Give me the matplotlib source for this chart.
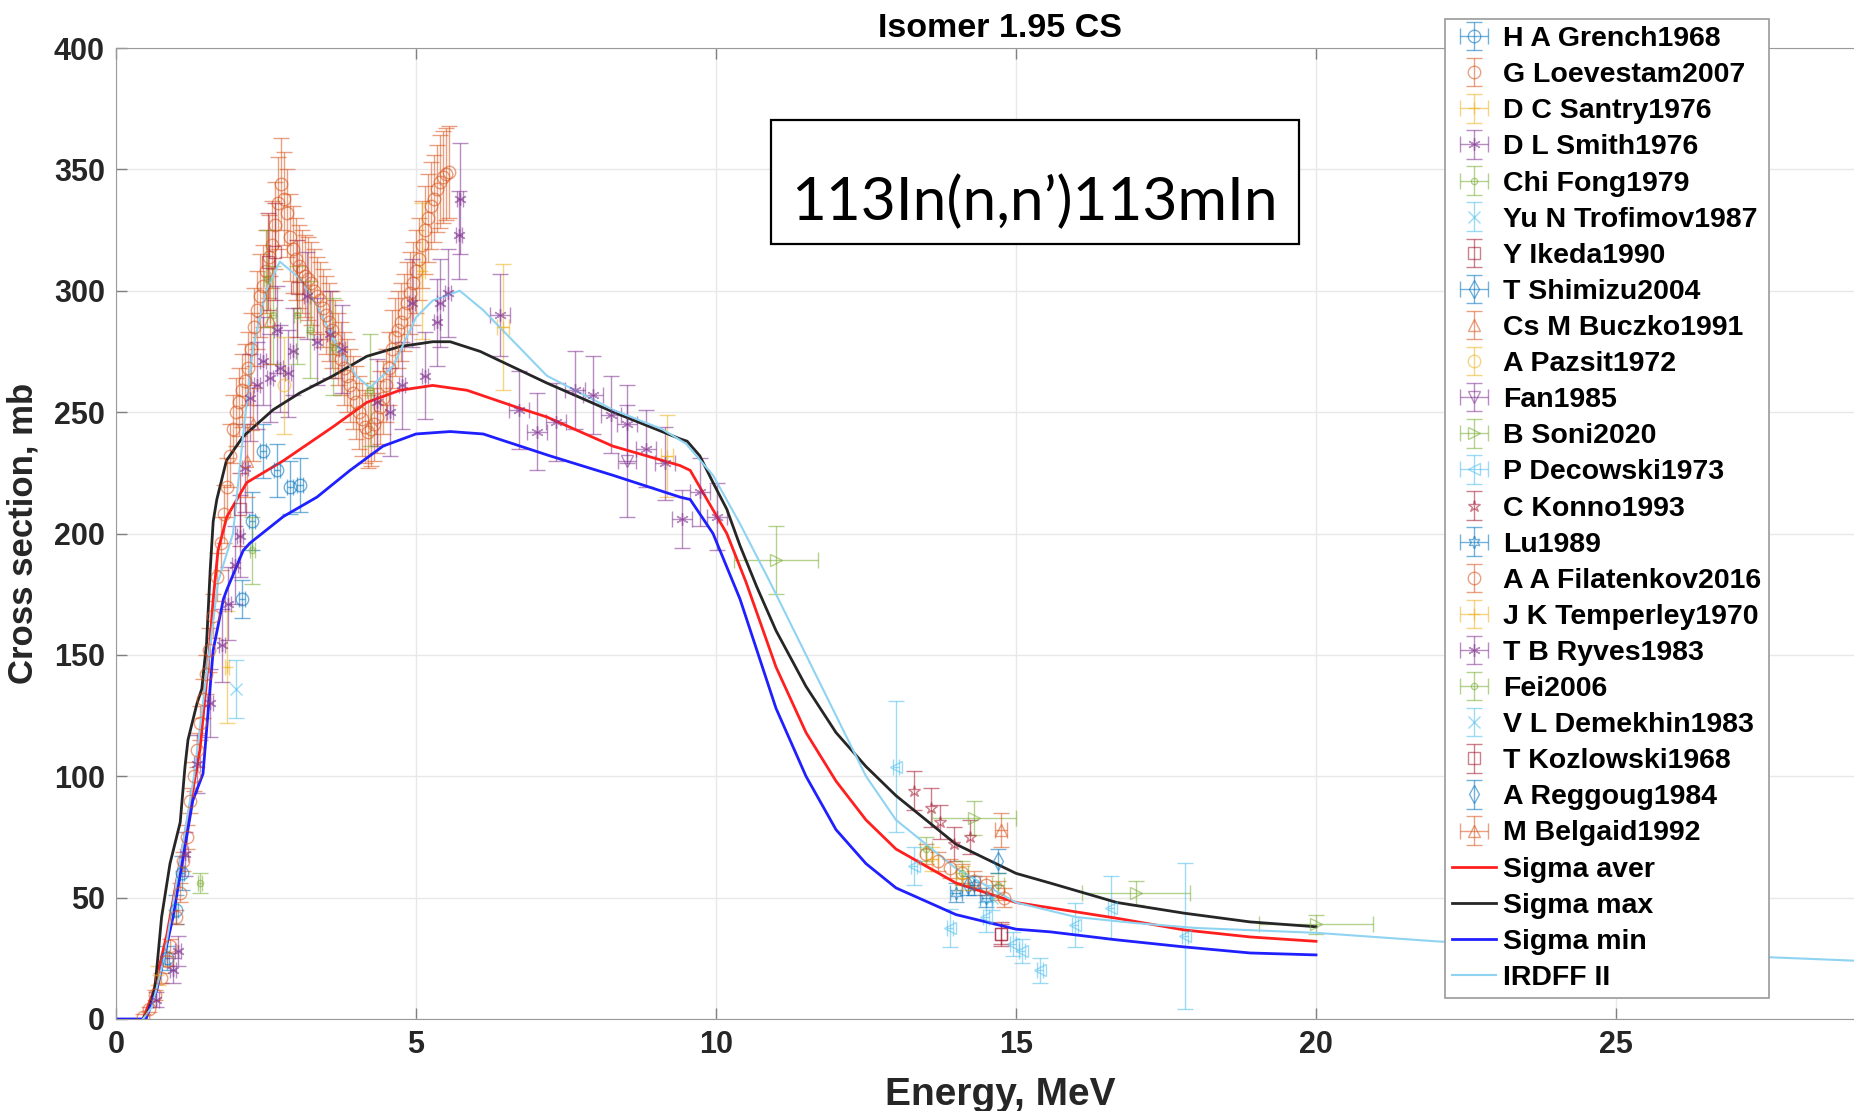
import numpy as np
import matplotlib
matplotlib.use('Agg')
import matplotlib.pyplot as plt
from matplotlib.patches import Rectangle

plt.rcParams['font.family'] = ['Liberation Sans', 'DejaVu Sans']
plt.rcParams['font.weight'] = 'bold'

# matlab default colour order
c_blue = '#0072BD'
c_orange = '#D95319'
c_yellow = '#EDB120'
c_purple = '#7E2F8E'
c_green = '#77AC30'
c_lblue = '#4DBEEE'
c_dred = '#A2142F'

# matlab style markers
asterisk = (6, 2, 0)
pentagram = '*'
hexagram = (6, 1, 0)

# ---- experimental data (E MeV, sigma mb, dsigma, dE) ----
grench_E = [0.85, 1.0, 1.1, 2.1, 2.27, 2.45, 2.68, 2.9, 3.07]
grench_s = [25, 45, 60, 173, 205, 234, 226, 219, 220]
grench_ds = [5, 6, 7, 8, 12, 11, 11, 11, 11]
grench_dE = [0.04, 0.04, 0.04, 0.05, 0.05, 0.05, 0.05, 0.05, 0.05]

loev_E = [0.45, 0.55, 0.65, 0.75, 0.85, 0.9, 1.0, 1.07, 1.12, 1.18, 1.23, 1.3, 1.35, 1.4,
          1.45, 1.5, 1.55, 1.62, 1.68, 1.75, 1.8, 1.85, 1.9, 1.95, 2.0, 2.05, 2.1, 2.15,
          2.2, 2.25, 2.3, 2.35, 2.4, 2.45, 2.5, 2.55, 2.6, 2.65, 2.7, 2.75, 2.8, 2.85,
          2.9, 2.95, 3.0, 3.05, 3.1, 3.15, 3.2, 3.25, 3.3, 3.35, 3.4, 3.45, 3.5, 3.55,
          3.6, 3.65, 3.7, 3.75, 3.8, 3.85, 3.9, 3.95, 4.0, 4.05, 4.1, 4.15, 4.2, 4.25,
          4.3, 4.35, 4.4, 4.45, 4.5, 4.55, 4.6, 4.65, 4.7, 4.75, 4.8, 4.85, 4.9, 4.95,
          5.0, 5.05, 5.1, 5.15, 5.2, 5.25, 5.3, 5.35, 5.4, 5.45, 5.5, 5.55]
loev_s = [1, 4, 10, 17, 24, 30, 42, 52, 65, 75, 90, 100, 111, 122,
          132, 142, 152, 166, 182, 196, 208, 219, 232, 243, 250, 254, 259, 263,
          268, 276, 285, 292, 298, 302, 308, 314, 319, 327, 336, 344, 338, 332,
          322, 317, 313, 310, 308, 306, 305, 303, 300, 298, 296, 293, 290, 287,
          284, 280, 276, 272, 268, 265, 261, 258, 254, 250, 247, 244, 242, 243,
          245, 248, 252, 256, 261, 268, 276, 281, 284, 287, 291, 295, 299, 303,
          308, 313, 319, 325, 330, 335, 338, 342, 345, 347, 348, 349]
loev_ds = [1, 1, 2, 2, 2, 3, 3, 4, 4, 5, 5, 6, 7, 7,
           8, 8, 9, 9, 10, 11, 12, 12, 13, 14, 14, 14, 15, 15,
           15, 15, 16, 16, 17, 17, 17, 17, 18, 18, 19, 19, 19, 18,
           18, 18, 17, 17, 17, 17, 17, 17, 17, 16, 16, 16, 16, 16,
           16, 16, 15, 15, 15, 15, 15, 15, 15, 15, 15, 15, 15, 15,
           15, 15, 15, 15, 15, 15, 16, 16, 16, 16, 16, 17, 17, 17,
           17, 17, 18, 18, 18, 18, 18, 18, 19, 19, 19, 19]

santry_E = [0.7, 1.85, 5.1, 6.45, 9.18]
santry_s = [18, 145, 308, 285, 232]
santry_ds = [4, 23, 28, 26, 17]
santry_dE = [0.04, 0.04, 0.05, 0.1, 0.1]

smith_E = [0.67, 0.95, 1.03, 1.15, 1.35, 1.57, 1.77, 1.87, 1.98, 2.07, 2.15, 2.23, 2.35,
           2.45, 2.57, 2.68, 2.73, 2.87, 2.95, 3.18, 3.35, 3.57, 3.77, 4.35, 4.57, 4.77,
           4.93, 5.15, 5.35, 5.4, 5.53, 5.72, 5.73]
smith_s = [8, 20, 28, 68, 105, 130, 154, 171, 187, 199, 227, 256, 261,
           271, 264, 284, 268, 266, 275, 298, 279, 282, 276, 254, 250, 261,
           295, 265, 287, 295, 299, 323, 338]
smith_ds = [3, 5, 6, 9, 12, 14, 15, 15, 16, 17, 18, 18, 18,
            18, 18, 18, 18, 18, 18, 18, 18, 18, 18, 18, 18, 18,
            18, 18, 18, 18, 18, 18, 23]
smith_dE = [0.05] * 33

fong_E = [1.4, 2.27, 2.52, 2.62, 3.02, 3.23, 3.62, 4.23]
fong_s = [56, 193, 305, 290, 290, 284, 277, 259]
fong_ds = [4, 14, 20, 20, 20, 20, 20, 23]
fong_dE = [0.04, 0.04, 0.05, 0.05, 0.05, 0.05, 0.05, 0.05]

trof_E = [2.0]
trof_s = [136]
trof_ds = [12]

ikeda_E = [2.07, 2.53, 2.65, 3.02, 14.75]
ikeda_s = [210, 312, 316, 301, 35]
ikeda_ds = [15, 20, 20, 20, 4]

shimizu_E = [14.2]
shimizu_s = [55]
shimizu_ds = [4]
shimizu_dE = [0.1]

buczko_E = [2.18, 2.28, 2.57]
buczko_s = [230, 245, 288]
buczko_ds = [15, 15, 18]

pazsit_E = [2.8]
pazsit_s = [261]
pazsit_ds = [20]

fan_E = [8.52]
fan_s = [230]
fan_ds = [23]
fan_dE = [0.15]

soni_E = [11.0, 14.3, 17.0, 20.0]
soni_s = [189, 83, 52, 39]
soni_ds = [14, 7, 5, 4]
soni_dE = [0.7, 0.7, 0.9, 0.95]

decow_E = [13.0, 13.3, 13.9, 14.5, 14.95, 15.1, 15.4, 15.98, 16.58, 17.82]
decow_s = [104, 63, 37.5, 42, 31, 28, 20, 38.8, 45.8, 34.3]
decow_ds = [27, 8, 8, 6, 5, 5, 5, 9, 13, 30]
decow_dE = [0.05] * 10

konno_E = [13.3, 13.58, 13.74, 13.96, 14.23]
konno_s = [94, 87, 81, 72, 75]
konno_ds = [8, 8, 7, 7, 7]

lu_E = [14.0, 14.3, 14.5]
lu_s = [52, 55, 50]
lu_ds = [4, 4, 4]
lu_dE = [0.1, 0.1, 0.1]

filat_E = [13.5, 13.7, 13.9, 14.1, 14.3, 14.5, 14.7, 14.8]
filat_s = [68, 65, 62, 60, 57, 55, 53, 50]
filat_ds = [4, 4, 4, 4, 4, 4, 4, 4]

temp_E = [13.6, 14.1]
temp_s = [66, 58]
temp_ds = [5, 5]
temp_dE = [0.1, 0.1]

ryves_E = [6.4, 6.72, 7.02, 7.33, 7.65, 7.95, 8.25, 8.52, 8.83, 9.15, 9.43, 9.73, 10.02]
ryves_s = [290, 251, 242, 246, 259, 257, 249, 245, 235, 229, 206, 217, 207]
ryves_ds = [17, 16, 16, 16, 16, 16, 16, 16, 16, 15, 12, 14, 14]
ryves_dE = [0.17] * 13

fei_E = [13.5, 14.1, 14.7]
fei_s = [70, 60, 55]
fei_ds = [5, 5, 5]
fei_dE = [0.1, 0.1, 0.1]

demek_E = [14.6]
demek_s = [50]
demek_ds = [5]

kozl_E = [14.75]
kozl_s = [35]
kozl_ds = [5]

regg_E = [14.7]
regg_s = [65]
regg_ds = [5]

belg_E = [14.75]
belg_s = [78]
belg_ds = [7]
belg_dE = [0.1]

# ---- evaluated curves ----
smax_E = [0.45, 0.55, 0.65, 0.76, 0.9, 1.07, 1.15, 1.2, 1.35, 1.43, 1.51, 1.57, 1.62, 1.68,
          1.84, 2.12, 2.62, 3.07, 3.62, 4.18, 4.73, 5.28, 5.57, 6.07, 7.18, 8.29, 9.4, 9.52,
          9.73, 9.95, 10.18, 10.4, 10.68, 11.0, 11.5, 12.0, 12.5, 13.0, 14.0, 15.0, 15.57,
          16.68, 17.8, 18.9, 20.0]
smax_s = [0, 4, 13, 42, 64, 81, 104, 115, 130, 136, 155, 185, 205, 214,
          230, 240, 251, 258, 265, 273, 277, 279, 279, 275, 262, 250, 239, 238,
          232, 221, 210, 195, 178, 160, 137, 118, 104, 92, 72, 60, 56,
          48, 43.6, 40, 38]

saver_E = [0.45, 0.62, 0.85, 1.12, 1.4, 1.55, 1.62, 1.7, 1.85, 2.18, 2.79, 3.62, 4.18, 4.73,
           5.28, 5.85, 6.68, 7.18, 8.28, 9.4, 9.57, 9.85, 10.18, 10.5, 11.0, 11.5, 12.0,
           12.5, 13.0, 14.0, 15.0, 15.57, 16.68, 17.8, 18.9, 20.0]
saver_s = [0, 11, 35, 72, 111, 150, 173, 193, 207, 221, 230, 244, 254, 259,
           261, 259, 252, 248, 236, 228, 226, 214, 200, 180, 145, 118, 98,
           82, 70, 56, 48, 45.8, 41.5, 36.7, 33.8, 32]

smin_E = [0.0, 0.5, 0.68, 0.95, 1.28, 1.45, 1.62, 1.79, 1.85, 2.12, 2.23, 2.79, 3.35, 3.9,
          4.45, 5.0, 5.57, 6.12, 7.23, 8.28, 9.4, 9.57, 9.95, 10.4, 11.0, 11.5, 12.0, 12.5,
          13.0, 14.0, 15.0, 15.57, 16.68, 17.8, 18.9, 20.0]
smin_s = [0, 0, 12, 42, 90, 101, 152, 173, 177, 193, 196, 207, 215, 226,
          236, 241, 242, 241, 232, 224, 215, 214, 200, 173, 128, 100, 78, 64,
          54, 43, 37, 35.9, 32.6, 29.7, 27.2, 26.4]

irdff_E = [0.45, 0.6, 0.8, 1.0, 1.3, 1.5, 1.7, 1.95, 2.12, 2.28, 2.5, 2.73, 3.07, 3.35, 3.62,
           4.0, 4.23, 4.62, 5.0, 5.28, 5.73, 6.12, 7.18, 8.28, 9.1, 9.5, 9.95, 10.4, 10.9,
           11.5, 12.0, 12.5, 13.0, 14.0, 15.0, 16.0, 17.0, 18.0, 20.0, 22.0, 25.0, 29.5]
irdff_s = [0, 5, 25, 55, 100, 140, 180, 200, 241, 276, 300, 312, 305, 294, 280,
           265, 260, 269, 289, 296, 300, 292, 265, 251, 243, 237, 224, 204, 180,
           150, 125, 100, 82, 62, 48, 42, 39.5, 37.5, 35.5, 32, 28, 23.5]

# label, E, sigma, dsigma, dE, marker, colour
datasets = [
    ('H A Grench1968', grench_E, grench_s, grench_ds, grench_dE, 'o', c_blue),
    ('G Loevestam2007', loev_E, loev_s, loev_ds, None, 'o', c_orange),
    ('D C Santry1976', santry_E, santry_s, santry_ds, santry_dE, '+', c_yellow),
    ('D L Smith1976', smith_E, smith_s, smith_ds, smith_dE, asterisk, c_purple),
    ('Chi Fong1979', fong_E, fong_s, fong_ds, fong_dE, '.', c_green),
    ('Yu N Trofimov1987', trof_E, trof_s, trof_ds, None, 'x', c_lblue),
    ('Y Ikeda1990', ikeda_E, ikeda_s, ikeda_ds, None, 's', c_dred),
    ('T Shimizu2004', shimizu_E, shimizu_s, shimizu_ds, shimizu_dE, 'd', c_blue),
    ('Cs M Buczko1991', buczko_E, buczko_s, buczko_ds, None, '^', c_orange),
    ('A Pazsit1972', pazsit_E, pazsit_s, pazsit_ds, None, 'o', c_yellow),
    ('Fan1985', fan_E, fan_s, fan_ds, fan_dE, 'v', c_purple),
    ('B Soni2020', soni_E, soni_s, soni_ds, soni_dE, '>', c_green),
    ('P Decowski1973', decow_E, decow_s, decow_ds, decow_dE, '<', c_lblue),
    ('C Konno1993', konno_E, konno_s, konno_ds, None, pentagram, c_dred),
    ('Lu1989', lu_E, lu_s, lu_ds, lu_dE, hexagram, c_blue),
    ('A A Filatenkov2016', filat_E, filat_s, filat_ds, None, 'o', c_orange),
    ('J K Temperley1970', temp_E, temp_s, temp_ds, temp_dE, '+', c_yellow),
    ('T B Ryves1983', ryves_E, ryves_s, ryves_ds, ryves_dE, asterisk, c_purple),
    ('Fei2006', fei_E, fei_s, fei_ds, fei_dE, '.', c_green),
    ('V L Demekhin1983', demek_E, demek_s, demek_ds, None, 'x', c_lblue),
    ('T Kozlowski1968', kozl_E, kozl_s, kozl_ds, None, 's', c_dred),
    ('A Reggoug1984', regg_E, regg_s, regg_ds, None, 'd', c_blue),
    ('M Belgaid1992', belg_E, belg_s, belg_ds, belg_dE, '^', c_orange),
]

fig = plt.figure(figsize=(18.54, 11.11), dpi=100)
# axes run a little past the right edge of the picture, like the cropped original
ax = fig.add_axes([116/1854, 1 - 1019/1111, (1885 - 116)/1854, (1019 - 48)/1111])

handles = []
for label, E, s, ds, dE, mk, col in datasets:
    h = ax.errorbar(E, s, yerr=ds, xerr=dE, marker=mk, linestyle='none', color=col,
                    mfc='none', ms=9, mew=1.0, elinewidth=1.0, capsize=6, alpha=0.55,
                    label=label)
    handles.append(h)

handles += ax.plot(saver_E, saver_s, color='#ff1f1f', lw=2, label='Sigma aver')
handles += ax.plot(smax_E, smax_s, color='#262626', lw=2, label='Sigma max')
handles += ax.plot(smin_E, smin_s, color='#1f1fff', lw=2, label='Sigma min')
handles += ax.plot(irdff_E, irdff_s, color='#8fd3f2', lw=1.5, label='IRDFF II')

ax.set_xlim(0, (1885 - 116) / 60)
ax.set_ylim(0, 400)
ax.set_xticks([0, 5, 10, 15, 20, 25])
ax.set_yticks(np.arange(0, 401, 50))
ax.grid(True, color='#e8e8e8', lw=1)
ax.set_axisbelow(True)
ax.tick_params(direction='in', length=8, width=1, colors='#808080',
               labelcolor='#262626', labelsize=22, top=True, right=False, pad=8)
for sp in ['left', 'bottom', 'top']:
    ax.spines[sp].set_color('#9a9a9a')
ax.spines['right'].set_visible(False)

ax.set_xlabel('Energy, MeV', fontsize=28, weight='bold', color='#262626', labelpad=12)
ax.set_ylabel('Cross section, mb', fontsize=25, weight='bold', color='#262626', labelpad=10)
ax.set_title('Isomer 1.95 CS', fontsize=24.5, weight='bold', color='#000000', pad=8)

# reaction label in a box
ax.add_patch(Rectangle((10.92, 319.3), 8.8, 51.2, fc='white', ec='black', lw=1.6, zorder=5))
ax.text(15.31, 329, '113In(n,n\u2019)113mIn', fontsize=43.5, family='Lato', weight='normal',
        ha='center', va='baseline', zorder=6)

leg = ax.legend(handles=handles, loc='upper left', bbox_to_anchor=(1445/1854, 1 - 19/1111),
                bbox_transform=fig.transFigure, borderaxespad=0, fancybox=False,
                edgecolor='#9a9a9a', framealpha=1, fontsize=20.5, labelspacing=0.355,
                handlelength=1.55, handletextpad=0.25, borderpad=0.25)
leg.get_frame().set_linewidth(1.2)
leg.set_zorder(10)

fig.savefig('out.png', dpi=100)
